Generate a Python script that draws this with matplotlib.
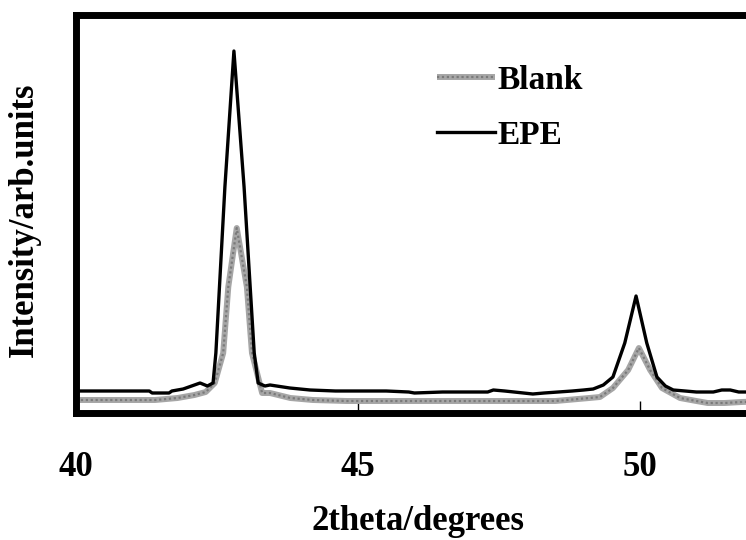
import matplotlib
matplotlib.use("Agg")
import matplotlib.pyplot as plt

plt.rcParams['font.family'] = ['Liberation Serif', 'DejaVu Serif']
plt.rcParams['font.weight'] = 'bold'

# EPE (black) curve: 2theta and arbitrary intensity
epe_x = [40.0, 40.5, 41.0, 41.3, 41.35, 41.65, 41.7, 41.9, 42.05, 42.2, 42.33,
         42.43, 42.48, 42.64, 42.80, 42.98, 43.16, 43.23, 43.35, 43.44, 43.79,
         44.15, 44.6, 45.0, 45.5, 45.9, 46.0, 46.5, 47.0, 47.3, 47.4, 47.6, 48.1,
         48.3, 48.8, 49.0, 49.17, 49.35, 49.52, 49.73, 49.93, 50.12, 50.30, 50.45,
         50.59, 50.8, 51.0, 51.3, 51.45, 51.6, 51.75, 52.3]
epe_y = [22, 22, 22, 22, 20, 20, 22, 24, 27, 30, 27,
         30, 60, 226, 362, 226, 60, 30, 27, 28, 25,
         23, 22, 22, 22, 21, 20, 21, 21, 21, 23, 22, 19,
         20, 22, 23, 24, 28, 36, 70, 117, 70, 36, 27,
         23, 22, 21, 21, 23, 23, 21, 21]

# Blank (grey) curve
blank_x = [40.0, 40.5, 41.0, 41.4, 41.8, 42.1, 42.3, 42.46, 42.61, 42.70, 42.85,
           43.03, 43.12, 43.30, 43.44, 43.8, 44.2, 44.8, 45.5, 46.2, 47.0, 47.8,
           48.5, 48.9, 49.1, 49.29, 49.52, 49.79, 49.98, 50.18, 50.39, 50.71,
           51.0, 51.2, 51.5, 51.8, 52.3]
blank_y = [13, 13, 13, 13, 15, 18, 21, 30, 60, 126, 185,
           126, 60, 20, 20, 15, 13, 12, 12, 12, 12, 12,
           12, 14, 15, 16, 25, 43, 65, 43, 25, 15,
           12, 10, 10, 11, 12]

xticks = [40, 45, 50]
xlabel = "2theta/degrees"
ylabel = "Intensity/arb.units"

fig = plt.figure(figsize=(7.46, 5.40), dpi=100)
ax = fig.add_axes([76/746, 1 - 413/540, (780 - 76)/746, (413 - 15)/540])

g1, = ax.plot(blank_x, blank_y, color='#a6a6a6', lw=4.3, solid_capstyle='butt', zorder=2)
g2, = ax.plot(blank_x, blank_y, color='#7a7a7a', lw=1.6, ls=(0, (1, 1.2)), zorder=2.1)
k1, = ax.plot(epe_x, epe_y, color='black', lw=2.4, zorder=3)

ax.set_xlim(40, 40 + (780 - 76)/56.4)
ax.set_ylim(0, 398)
ax.set_xticks(xticks)
ax.set_xticklabels([str(t) for t in xticks])
ax.set_yticks([])
ax.tick_params(axis='x', direction='in', length=8.5, width=1.0, pad=27, labelsize=25)
for s in ax.spines.values():
    s.set_linewidth(5)
    s.set_color('black')
ax.spines['right'].set_visible(False)
for t in ax.xaxis.get_major_ticks():
    t.tick1line.set_zorder(1)

ax.set_xlabel(xlabel, fontsize=25, fontweight='bold')
ax.xaxis.set_label_coords((418 - 76)/704, -0.232)
ax.set_ylabel(ylabel, fontsize=25, fontweight='bold')
ax.yaxis.set_label_coords(-0.05, 0.485)

leg = ax.legend(handles=[(g1, g2), k1], labels=['Blank', 'EPE'],
                loc='upper left', bbox_to_anchor=((437 - 76)/704, 1 - 50/398),
                frameon=False, fontsize=24, handlelength=1.75, handletextpad=0.05,
                labelspacing=0.72, borderpad=0, borderaxespad=0)
for t in leg.get_texts():
    t.set_fontweight('bold')

fig.savefig('out.png', dpi=100)
